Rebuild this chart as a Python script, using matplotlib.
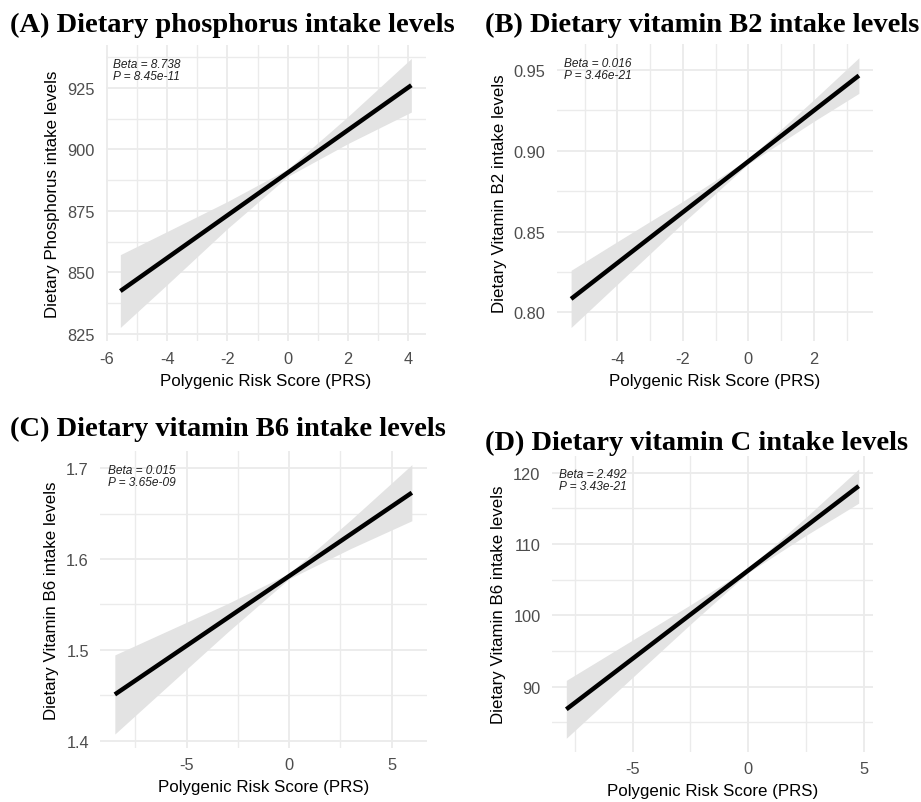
import matplotlib
matplotlib.use('Agg')
import matplotlib.pyplot as plt
import numpy as np

plt.rcParams['font.family'] = ['Liberation Sans', 'DejaVu Sans']
plt.rcParams['axes.unicode_minus'] = False

# panel A: phosphorus
prs_a = [-5.55, -4, -2, 0, 2, 4.1]
fit_a = [842.4, 855.8, 873.3, 890.5, 907.9, 926.1]
lo_a = [827.6, 845.0, 867.8, 889.0, 902.4, 915.2]
hi_a = [857.2, 866.6, 878.8, 892.0, 913.4, 937.0]
xt_a = [-6, -4, -2, 0, 2, 4]
yt_a = [825, 850, 875, 900, 925]
ylab_a = ['825', '850', '875', '900', '925']

# panel B: vitamin B2
prs_b = [-5.415, -4, -2, 0, 2, 3.374]
fit_b = [0.8083, 0.8306, 0.8620, 0.8934, 0.9249, 0.9465]
lo_b = [0.7906, 0.8174, 0.8553, 0.8919, 0.9182, 0.9355]
hi_b = [0.8260, 0.8438, 0.8687, 0.8949, 0.9316, 0.9575]
xt_b = [-4, -2, 0, 2]
yt_b = [0.80, 0.85, 0.90, 0.95]
ylab_b = ['0.80', '0.85', '0.90', '0.95']

# panel C: vitamin B6
prs_c = [-8.5, -6, -3, 0, 3, 5.99]
fit_c = [1.4508, 1.4892, 1.5352, 1.5812, 1.6272, 1.6731]
lo_c = [1.4072, 1.4583, 1.5195, 1.5782, 1.6115, 1.6422]
hi_c = [1.4944, 1.5201, 1.5509, 1.5842, 1.6429, 1.7040]
xt_c = [-5, 0, 5]
yt_c = [1.4, 1.5, 1.6, 1.7]
ylab_c = ['1.4', '1.5', '1.6', '1.7']

# panel D: vitamin C
prs_d = [-7.86, -5, -2.5, 0, 2.5, 4.77]
fit_d = [86.81, 93.90, 100.10, 106.29, 112.49, 118.12]
lo_d = [82.75, 91.28, 98.74, 105.99, 111.22, 115.73]
hi_d = [90.87, 96.52, 101.46, 106.59, 113.76, 120.51]
xt_d = [-5, 0, 5]
yt_d = [90, 100, 110, 120]
ylab_d = ['90', '100', '110', '120']

titles = ['(A) Dietary phosphorus intake levels',
          '(B) Dietary vitamin B2 intake levels',
          '(C) Dietary vitamin B6 intake levels',
          '(D) Dietary vitamin C intake levels']
ylabels = ['Dietary Phosphorus intake levels',
           'Dietary Vitamin B2 intake levels',
           'Dietary Vitamin B6 intake levels',
           'Dietary Vitamin B6 intake levels']
stats = ['Beta = 8.738\nP = 8.45e-11',
         'Beta = 0.016\nP = 3.46e-21',
         'Beta = 0.015\nP = 3.65e-09',
         'Beta = 2.492\nP = 3.43e-21']

W, H = 921, 803
fig = plt.figure(figsize=(W / 100, H / 100), dpi=100)

# pixel boxes: left, right, top, bottom
boxes = [(105.8, 425.9, 46, 341.9),
         (556.7, 873.3, 45.3, 342),
         (100, 426.7, 452.2, 748.5),
         (551.7, 873.3, 456.6, 752.7)]
title_pos = [(10, 31.7), (485, 31.7), (10, 436), (485, 450)]

panels = [(prs_a, fit_a, lo_a, hi_a, xt_a, yt_a, ylab_a),
          (prs_b, fit_b, lo_b, hi_b, xt_b, yt_b, ylab_b),
          (prs_c, fit_c, lo_c, hi_c, xt_c, yt_c, ylab_c),
          (prs_d, fit_d, lo_d, hi_d, xt_d, yt_d, ylab_d)]

for i, (x, f, lo, hi, xt, yt, yl) in enumerate(panels):
    l, r, t, b = boxes[i]
    ax = fig.add_axes([l / W, 1 - b / H, (r - l) / W, (b - t) / H])
    ax.fill_between(x, lo, hi, color='#e3e3e3', lw=0, zorder=2)
    ax.plot([x[0], x[-1]], [f[0], f[-1]], color='black', lw=3.2,
            solid_capstyle='butt', zorder=3)

    ax.set_xticks(xt)
    ax.set_xticklabels([str(v) for v in xt])
    ax.set_yticks(yt)
    ax.set_yticklabels(yl)
    xs = xt[1] - xt[0]
    ys = yt[1] - yt[0]
    ax.set_xticks(np.arange(xt[0] - xs / 2, xt[-1] + xs, xs), minor=True)
    ax.set_yticks(np.arange(yt[0] - ys / 2, yt[-1] + ys, ys), minor=True)

    # ggplot style 5% expansion (after ticks so they don't widen the view)
    dx = (x[-1] - x[0]) * 0.05
    ax.set_xlim(x[0] - dx, x[-1] + dx)
    dy = (hi[-1] - lo[0]) * 0.05
    ax.set_ylim(lo[0] - dy, hi[-1] + dy)

    ax.grid(which='major', color='#ebebeb', lw=1.3, zorder=0)
    ax.grid(which='minor', color='#ebebeb', lw=1.0, zorder=0)
    ax.set_axisbelow(True)
    for s in ax.spines.values():
        s.set_visible(False)
    ax.tick_params(which='both', length=0, labelsize=11.8, labelcolor='#4d4d4d')
    ax.tick_params(axis='x', pad=7)
    ax.tick_params(axis='y', pad=8)
    ax.set_xlabel('Polygenic Risk Score (PRS)', fontsize=12.2, color='black', labelpad=5)
    ax.set_ylabel(ylabels[i], fontsize=12.2, color='black', labelpad=5)
    ax.text(0.024, 0.957, stats[i], transform=ax.transAxes, ha='left', va='top',
            fontsize=8.6, style='italic', color='#222222', linespacing=1.0, zorder=4)

    tx, ty = title_pos[i]
    fig.text(tx / W, 1 - ty / H, titles[i], ha='left', va='baseline',
             fontsize=20.5, fontweight='bold', family='Liberation Serif')

fig.savefig('out.png', dpi=100)
